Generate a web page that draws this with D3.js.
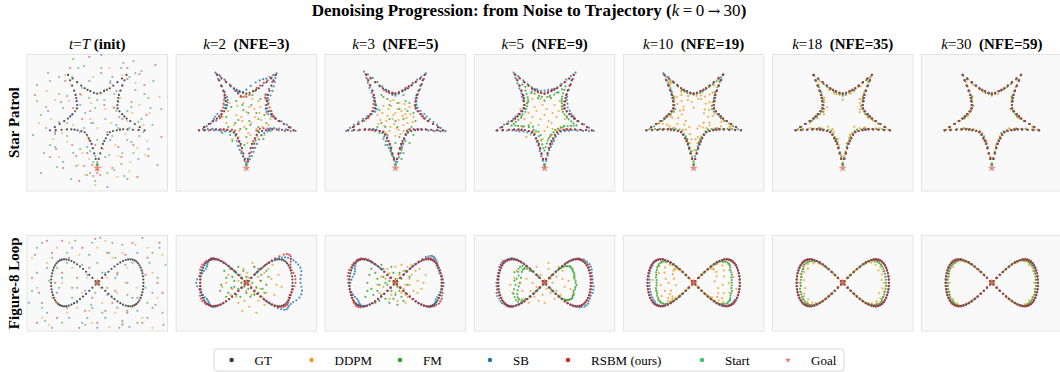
<!DOCTYPE html>
<html>
<head>
<meta charset="utf-8">
<script src="https://cdn.jsdelivr.net/npm/d3@7"></script>
<style>
  body { margin: 0; background: #fff; }
  svg text { font-family: "Liberation Serif", "Times New Roman", serif; white-space: pre; }
</style>
</head>
<body>
<svg id="chart" width="1060" height="372"></svg>
<script>
// ---------- labels ----------
const methods = ['GT', 'DDPM', 'FM', 'SB', 'RSBM (ours)', 'Start', 'Goal'];
const steps = [null, 2, 3, 5, 10, 18, 30];
const nfe = [null, 3, 5, 9, 19, 35, 59];
const rowNames = ['Star Patrol', 'Figure-8 Loop'];

// ---------- ground truth shapes (polar: screen angle in degrees, radius) ----------
const starAngle = [
  90, 92, 94.5, 97.5, 101, 105, 110, 117.5, 126, 134.5, 142, 147, 151, 154.5, 157.5, 160,
  162, 164, 166.5, 169.5, 173, 177, 182, 189.5, 198, 206.5, 214, 219, 223, 226.5, 229.5, 232,
  234, 236, 238.5, 241.5, 245, 249, 254, 261.5, 270, 278.5, 286, 291, 295, 298.5, 301.5, 304,
  306, 308, 310.5, 313.5, 317, 321, 326, 333.5, 342, 350.5, 358, 363, 367, 370.5, 373.5, 376,
  378, 380, 382.5, 385.5, 389, 393, 398, 405.5, 414, 422.5, 430, 435, 439, 442.5, 445.5, 448
];
const starRadius = [
  49.5, 44, 38.5, 33.5, 29.5, 27, 24.8, 22.4, 21.3, 22.4, 24.8, 27, 29.5, 33.5, 38.5, 44,
  49.5, 44, 38.5, 33.5, 29.5, 27, 24.8, 22.4, 21.3, 22.4, 24.8, 27, 29.5, 33.5, 38.5, 44,
  49.5, 44, 38.5, 33.5, 29.5, 27, 24.8, 22.4, 21.3, 22.4, 24.8, 27, 29.5, 33.5, 38.5, 44,
  49.5, 44, 38.5, 33.5, 29.5, 27, 24.8, 22.4, 21.3, 22.4, 24.8, 27, 29.5, 33.5, 38.5, 44,
  49.5, 44, 38.5, 33.5, 29.5, 27, 24.8, 22.4, 21.3, 22.4, 24.8, 27, 29.5, 33.5, 38.5, 44
];
const starGoal = [0, 53];
const starStart = [0, 49.5];

const figAngle = [
  -45.6, -45.5, -45.2, -44.8, -44.2, -43.4, -42.6, -41.5, -40.3, -38.8, -37.2, -35.4, -33.3, -31.0, -28.4,
  -25.6, -22.6, -19.3, -15.7, -12.0, -8.1, -4.1, 0, 4.1, 8.1, 12.0, 15.7, 19.3, 22.6, 25.6,
  28.4, 31.0, 33.3, 35.4, 37.2, 38.8, 40.3, 41.5, 42.6, 43.4, 44.2, 44.8, 45.2, 45.5, 45.6,
  225.6, 225.5, 225.2, 224.8, 224.2, 223.4, 222.6, 221.5, 220.3, 218.8, 217.2, 215.4, 213.3, 211.0, 208.4,
  205.6, 202.6, 199.3, 195.7, 192.0, 188.1, 184.1, 180, 175.9, 171.9, 168.0, 164.3, 160.7, 157.4, 154.4,
  151.6, 149.0, 146.7, 144.6, 142.8, 141.2, 139.7, 138.5, 137.4, 136.6, 135.8, 135.2, 134.8, 134.5, 134.4
];
const figRadius = [
  2.3, 6.9, 11.3, 15.7, 19.8, 23.7, 27.4, 30.7, 33.7, 36.4, 38.7, 40.6, 42.2, 43.4, 44.4,
  45.1, 45.5, 45.8, 45.9, 46, 46, 46, 46, 46, 46, 46, 45.9, 45.8, 45.5, 45.1,
  44.4, 43.4, 42.2, 40.6, 38.7, 36.4, 33.7, 30.7, 27.4, 23.7, 19.8, 15.7, 11.3, 6.9, 2.3,
  2.3, 6.9, 11.3, 15.7, 19.8, 23.7, 27.4, 30.7, 33.7, 36.4, 38.7, 40.6, 42.2, 43.4, 44.4,
  45.1, 45.5, 45.8, 45.9, 46, 46, 46, 46, 46, 46, 46, 45.9, 45.8, 45.5, 45.1,
  44.4, 43.4, 42.2, 40.6, 38.7, 36.4, 33.7, 30.7, 27.4, 23.7, 19.8, 15.7, 11.3, 6.9, 2.3
];
const figGoal = [0, 0];
const figStart = [0, 0];

// ---------- Star Patrol: radial offsets from GT (one value per GT point) ----------
const starK2Rsbm = [0,2,3,3,2,1,0,-1,-2,-2,-1,0,1,2,2,1, 0,-1,-2,-3,-3,-2,0,2,3,3,2,1,0,-1,-1,0,
  1,2,1,-1,-3,-4,-5,-4,-3,-2,0,2,3,3,2,1, 0,-2,-4,-5,-4,-2,0,2,3,2,1,0,-1,-1,0,1, 2,3,3,2,0,-2,-3,-3,-2,0,2,3,4,4,3,2];
const starK2Sb = [-2,0,3,5,6,5,3,1,0,1,2,3,2,0,-2,-3, -4,-3,-1,1,3,4,4,3,1,-1,-2,-3,-3,-2,0,2,
  3,4,3,1,-1,-2,-1,1,4,7,9,10,10,8,6,4, 2,3,5,6,6,4,2,0,-1,-2,-3,-2,0,2,3,2, 0,-2,-3,-3,-2,0,2,3,4,5,6,7,8,8,6,3];
const starK3Rsbm = [0,1,2,2,1,0,-1,-1,-1,0,1,1,1,0,0,0, 0,-1,-1,-2,-2,-1,0,1,2,2,1,0,0,0,1,1,
  1,1,0,-1,-2,-2,-2,-1,0,1,1,2,2,1,1,0, 0,1,2,2,1,0,-1,-1,0,1,1,0,-1,-1,0,1, 1,2,2,1,0,-1,-2,-2,-1,0,1,2,2,1,1,0];
const starK3Sb = [-3,-1,1,3,4,4,3,2,1,0,-1,-1,0,1,2,2, 2,3,4,4,3,1,-1,-2,-2,-1,0,2,3,4,4,3,
  4,5,5,4,2,0,-1,-2,-2,-1,0,1,2,3,3,2, 2,2,1,0,-1,-1,0,1,2,3,4,4,5,5,4,3, 3,4,4,3,1,0,-1,-2,-2,-1,1,3,4,5,4,3];
const starK5Rsbm = [0,0,1,1,1,0,0,-1,-1,0,0,1,1,1,0,0, 0,0,-1,-1,0,0,1,1,1,0,0,-1,-1,0,0,1,
  1,1,0,0,-1,-1,-1,0,0,1,1,1,0,0,0,0, 0,1,1,1,0,0,-1,-1,-1,0,0,1,1,0,0,0, 0,0,1,1,0,-1,-1,-1,0,0,1,1,1,0,0,0];
const starK5Sb = [2,2,3,3,2,1,0,0,1,2,2,3,3,2,2,1, 1,2,3,3,2,2,1,1,0,0,1,2,2,3,3,3,
  3,3,2,2,1,1,2,2,3,3,2,1,1,2,3,3, 3,2,2,1,1,2,2,3,3,3,2,2,1,1,2,2, 2,3,3,3,2,2,1,1,2,2,3,3,3,2,2,2];
const starK5Fm = [-14,-11,-9,-8,-9,-5,-7,-4,-3,-6,-5,-8,-6,-8,-10,-13, -15,-12,-9,-7,-6,-4,-3,-3,-2,-3,-4,-6,-7,-9,-11,-13,
  -12,-10,-13,-7,-6,-9,-5,-4,-7,-4,-5,-9,-7,-8,-12,-13, -14,-12,-10,-8,-6,-5,-4,-3,-3,-4,-5,-5,-7,-9,-11,-14,
  -16,-13,-10,-8,-7,-5,-4,-3,-3,-3,-4,-5,-6,-8,-10,-12];
const starK10Sb = [0,0,0,1,1,0,0,0,0,0,0,0,0,1,1,0, 0,0,0,0,0,0,0,0,0,0,0,0,1,1,1,1,
  2,2,1,1,0,0,0,0,0,0,0,0,0,0,0,1, 1,1,0,0,0,0,0,0,0,0,0,0,0,0,0,0, 0,0,0,0,0,0,0,0,0,0,0,1,1,1,0,0];
const starK10Fm = [-3,-2,-2,-1,-1,-2,-2,-1,-1,-2,-2,-2,-1,-1,-2,-3, -3,-3,-2,-2,-1,-1,-2,-2,-2,-1,-1,-2,-2,-2,-3,-3,
  -2,-2,-1,-1,-2,-2,-2,-1,-1,-1,-2,-2,-1,-1,-2,-3, -3,-2,-2,-2,-1,-1,-1,-2,-2,-2,-1,-1,-2,-2,-2,-3,
  -3,-3,-2,-1,-1,-2,-2,-2,-1,-1,-1,-2,-2,-2,-3,-3];
const starK10Ddpm = [-3,-8,-14,-5,-10,-2,-12,-6,-3,-9,-15,-4,-11,-7,-2,-16, -5,-12,-3,-18,-8,-4,-13,-2,-7,-11,-5,-14,-3,-9,-20,-6,
  -10,-4,-15,-7,-2,-11,-5,-9,-14,-3,-8,-6,-12,-2,-17,-8, -6,-18,-9,-3,-13,-7,-2,-10,-5,-12,-4,-8,-15,-3,-10,-5,
  -12,-5,-9,-16,-3,-8,-12,-4,-6,-10,-2,-13,-7,-5,-14,-9];
const starK18Fm = [-1,-2,-1,-1,-2,-2,-1,-1,-2,-1,-1,-2,-2,-1,-1,-2, -2,-1,-1,-2,-1,-1,-2,-2,-1,-1,-2,-1,-1,-2,-2,-1,
  -1,-1,-2,-2,-1,-2,-1,-1,-2,-2,-1,-1,-2,-1,-1,-2, -2,-2,-1,-1,-2,-1,-1,-2,-1,-1,-2,-2,-1,-1,-2,-1,
  -1,-2,-2,-1,-1,-2,-1,-2,-1,-1,-2,-1,-1,-2,-1,-1];
const starK18Ddpm = [-2,-4,-1,-3,-5,-2,-1,-3,-4,-2,-6,-1,-3,-2,-4,-1, -3,-1,-5,-2,-4,-1,-6,-3,-2,-5,-1,-3,-4,-2,-1,-5,
  -1,-3,-2,-5,-1,-4,-3,-2,-6,-1,-2,-4,-3,-1,-5,-2, -4,-2,-1,-3,-6,-2,-4,-1,-3,-5,-2,-1,-4,-3,-2,-1,
  -2,-5,-3,-1,-4,-2,-3,-6,-1,-2,-4,-3,-1,-5,-2,-3];
const starK30Fm = [-1,-1,0,-1,-1,-1,-2,-1,-1,0,-1,-1,-1,-2,-1,-1, -1,0,-1,-1,-2,-1,-1,-1,0,-1,-1,-1,-2,-1,-1,0,
  -1,-1,-1,0,-1,-1,-2,-1,-1,-1,0,-1,-1,-1,-2,-1, 0,-1,-1,-1,-2,-1,-1,0,-1,-1,-1,-2,-1,-1,0,-1,
  -1,-1,-2,-1,-1,0,-1,-1,-1,-2,-1,-1,0,-1,-1,-1];
const starK30Ddpm = [-1,-2,0,-1,-3,-1,0,-2,-1,-1,-2,0,-1,-3,-1,0, -2,-1,-1,0,-2,-3,-1,-1,0,-2,-1,-1,-3,0,-1,-2,
  0,-1,-3,-1,-1,-2,0,-1,-2,-1,-3,-1,0,-2,-1,-1, -1,0,-2,-1,-3,-1,-1,0,-2,-1,-1,-2,-3,-1,0,-2,
  -2,-1,0,-1,-2,-1,-3,-1,0,-1,-2,-1,-1,-3,-2,0];

// ---------- Star Patrol: scattered samples [x, y] (px units, origin at star centre, y down) ----------
const starInitDdpm = [[-35,18],[10,-26],[30,6],[-15,38],[4,52],[42,-10],[-46,4],[18,30],[-6,-12],[25,-40],[-26,-30],[50,26],[-10,22],[14,8],[-38,42],[33,47],[-4,-38],[6,34],[-22,-4],[46,10],[-50,-24],[23,-17],[-12,60],[38,-32],[-30,27],[0,13],[12,-47],[-42,-15],[28,19],[-19,50],[52,-2],[-7,4],[21,41],[-32,-40],[8,-6],[40,33],[-24,10],[4,-21],[-44,24],[32,56],[-2,70],[62,-18],[-58,8],[16,-8],[-16,-20],[35,-2],[-8,44],[20,62],[-28,-14],[48,40]];
const starInitFm = [[-8,-17],[21,13],[-30,8],[13,-34],[0,25],[34,-8],[-17,34],[25,38],[-38,-21],[8,4],[-4,47],[46,17],[-25,-38],[17,-21],[-13,13],[38,-25],[-51,13],[4,-47],[30,25],[-21,51],[-42,32],[19,-4],[-7,36],[51,-17],[-34,-7],[10,58],[-15,-27],[41,7],[-2,-7],[24,49],[-47,-34],[32,-38],[-10,60],[55,10],[-30,21],[15,21],[-56,0],[7,-15],[-19,-47],[36,38],[64,-6],[-2,66],[26,-52],[-60,-14],[12,40],[-40,52],[44,-44],[-6,8],[30,64],[-24,-56]];
const starInitSb = [[-38,-38],[25,-30],[-17,17],[42,21],[-47,30],[8,42],[30,-4],[-8,-34],[51,34],[-25,0],[17,55],[-51,-8],[38,-42],[-4,8],[21,-13],[-34,47],[47,-21],[-13,-49],[32,13],[-42,19],[7,-25],[-24,38],[53,-7],[-30,-19],[13,25],[-7,58],[41,44],[-53,38],[24,-47],[0,-15],[-17,-10],[34,27],[-38,7],[15,-38],[44,4],[-10,32],[27,61],[-49,-42],[19,10],[-2,41],[60,50],[-64,20],[4,-60],[36,-54],[-26,64],[10,72],[-60,-30],[56,-34],[-12,-2],[22,2]];
const starInitRsbm = [[-32,-34],[30,-36],[-42,17],[41,15],[0,47],[-17,-21],[19,-24],[-25,30],[21,32],[-7,-4],[10,17],[-49,-4],[49,0],[-13,51],[15,53],[-36,-13],[34,-13],[-21,41],[24,42],[4,-42],[-8,25],[36,30],[-41,34],[-4,61],[47,-30],[-27,-47],[25,4],[-15,4],[7,-10],[-47,42],[51,41],[-24,-7],[13,-32],[30,-47],[-10,38],[0,58],[42,-41],[-34,53],[17,-7],[-2,30],[0,55],[3,60],[-5,50],[-62,-20],[64,22],[-18,66],[58,-50],[-56,58],[40,62],[-8,-58]];
const starK2Ddpm = [[-5,2],[8,-6],[-12,10],[15,5],[2,18],[-18,-4],[10,14],[-3,-12],[20,-2],[-8,22],[5,8],[-15,16],[12,-14],[0,-3],[-20,8],[18,20],[-6,-18],[7,26],[-10,0],[22,10],[3,-8],[-14,24],[14,-8],[-2,12],[9,2],[-22,14],[16,12],[-4,6],[6,-16],[-9,-9],[11,22],[-17,-12],[1,28],[19,-10],[-7,16],[13,-2],[-1,-20],[-24,2],[24,4],[4,20]];
const starK2Fm = [[5,-10],[-8,5],[12,12],[-15,-8],[18,0],[0,22],[-5,-18],[10,-2],[-12,18],[22,-12],[3,6],[-20,2],[15,20],[-3,-5],[8,28],[-10,-14],[20,8],[-18,12],[6,-20],[-6,14],[14,-16],[2,-2],[-14,26],[25,-4],[-2,30],[10,16],[-22,-10],[17,24],[-8,-22],[4,10],[-16,20],[12,4],[24,16],[-4,-10],[0,14],[9,-24],[-11,8],[19,-20],[7,33],[-24,18]];
const starK3Ddpm = [[-2,0],[6,-4],[-9,6],[11,3],[1,13],[-13,-2],[8,10],[-4,-9],[15,-1],[-6,16],[3,5],[-11,11],[9,-11],[0,-2],[-15,5],[13,14],[-5,-14],[5,19],[-8,1],[17,7],[2,-6],[-10,18],[10,-6],[-1,9],[7,1],[-17,9],[12,8],[-3,4],[4,-12],[-7,-6],[8,16],[-12,-9],[0,21],[14,-8],[-5,12],[10,-1],[-2,-15],[-18,0],[18,2],[3,15]];
const starK3Fm = [[-12,-18],[8,-20],[-16,-5],[14,-12],[-6,-10],[18,-2],[-14,8],[4,-6],[-8,20],[12,18],[-18,12],[0,28],[6,35],[-4,38],[10,26],[-10,30],[16,12],[-2,-22],[20,-8],[-20,-12],[2,12],[-6,4],[8,4],[-12,24],[14,28],[-2,42],[4,22],[-16,18],[18,20],[10,-14],[-8,-16],[0,6],[6,44],[-10,12],[12,-4],[-4,32],[20,6],[-14,-20],[2,-12],[8,38]];
const starK5Ddpm = [[-8,-4],[4,6],[-14,8],[10,-10],[0,16],[-18,-12],[12,2],[-4,-16],[6,20],[-20,4],[16,12],[-10,18],[2,-6],[-6,10],[14,-4],[-16,-2],[8,14],[-2,24],[-12,-16],[18,-8],[-22,12],[0,0],[10,22],[-8,26],[5,-18],[-14,20],[20,4],[-4,4],[7,8],[-24,-6],[12,16],[-10,-8],[3,12],[-18,22],[15,-14],[-2,-10],[8,-2],[-12,2],[22,14],[-6,-22]];

// ---------- Figure-8 Loop: radial offsets from GT (right lobe 45, left lobe 45) ----------
const figK2Rsbm = [0,0,1,1,1,2,2,3,4,6,8,9,9,8,6,4,2,1,1,2,3,3,3,2,1,0,-1,-1,0,1,2,2,2,1,1,0,0,-1,-1,0,0,0,0,0,0,
  0,0,0,1,1,1,2,2,2,2,1,1,0,0,1,1,2,2,2,1,1,0,0,0,1,1,2,2,2,1,1,0,0,-1,-1,-1,0,0,0,0,0,0,0,0,0];
const figK2Sb = [0,0,0,-1,-1,-2,-2,-1,0,1,2,3,4,5,6,7,8,9,10,10,9,8,8,9,10,10,9,7,5,4,4,5,6,6,5,4,3,2,1,1,0,0,0,0,0,
  0,0,-1,-1,-2,-2,-2,-1,0,1,2,2,1,0,-1,-2,-3,-3,-2,-1,1,3,4,3,1,0,-1,-2,-3,-3,-2,-1,0,1,1,1,0,0,0,0,0,0,0,0,0];
const figK3Rsbm = [0,0,0,0,1,1,1,1,2,2,2,2,1,1,0,0,-1,-1,0,0,1,1,1,1,1,2,2,3,3,3,2,2,1,1,0,0,0,0,0,0,0,0,0,0,0,
  0,0,0,0,1,1,1,2,2,2,1,1,0,0,0,1,1,1,2,2,2,1,1,0,0,-1,-1,0,0,1,1,2,2,2,1,1,0,0,0,0,0,0,0,0,0];
const figK3Sb = [0,0,1,1,2,3,4,5,6,6,6,5,4,3,2,1,0,-1,-1,-1,0,1,2,2,1,0,-1,-2,-2,-1,0,1,1,1,1,0,0,0,0,0,0,0,0,0,0,
  0,0,0,0,-1,-1,-1,-2,-2,-1,0,1,1,1,0,-1,-2,-3,-4,-4,-3,-2,-1,0,0,-1,-2,-3,-4,-4,-3,-2,-1,-1,0,0,0,0,0,0,0,0,0,0,0];
const figK5Rsbm = [0,0,0,0,0,1,1,1,1,1,1,1,0,0,0,0,1,1,1,1,1,1,1,1,1,1,1,1,0,0,0,0,0,0,0,0,0,0,0,0,0,0,0,0,0,
  0,0,0,0,1,1,1,1,1,1,0,0,0,0,1,1,1,1,1,1,1,1,1,1,1,1,1,0,0,0,0,0,1,1,1,0,0,0,0,0,0,0,0,0,0];
const figK5Sb = [0,0,0,1,1,1,2,2,2,1,1,1,1,2,2,2,3,3,3,2,2,2,2,3,3,3,2,2,2,3,3,3,2,2,1,1,1,0,0,0,0,0,0,0,0,
  0,0,0,1,1,1,1,2,2,2,2,1,1,1,2,2,2,2,1,1,1,1,2,2,2,3,3,2,2,2,1,1,1,0,0,-1,-1,-1,0,0,0,0,0,0,0];
const figK5Fm = [-1,-1,-2,-3,-4,-5,-6,-8,-9,-10,-11,-12,-12,-13,-14,-14,-15,-15,-15,-16,-16,-15,-15,-14,-15,-15,-16,-15,-14,-14,-13,-12,-12,-11,-10,-9,-8,-7,-6,-5,-4,-3,-2,-1,-1,
  -2,-4,-3,-6,-8,-5,-10,-12,-9,-14,-11,-16,-13,-18,-15,-20,-17,-14,-19,-22,-18,-16,-21,-17,-20,-15,-18,-13,-16,-12,-14,-10,-12,-8,-11,-7,-9,-5,-7,-4,-5,-3,-2,-1,-1];
const figK10Sb = [0,0,0,0,0,0,0,0,0,0,0,0,0,0,0,0,0,0,0,0,0,0,0,0,0,0,0,0,-1,-1,-1,-1,-1,-1,-1,-1,0,0,0,0,0,0,0,0,0,
  0,0,0,0,0,0,0,0,0,0,0,0,0,0,0,0,-1,-1,-1,-1,-1,-2,-2,-2,-2,-2,-2,-2,-2,-2,-1,-1,-1,-1,0,0,0,0,0,0,0,0,0,0,0];
const figK10Fm = [0,0,0,-1,-1,-1,-2,-2,-2,-3,-3,-4,-4,-4,-5,-5,-6,-7,-7,-7,-8,-8,-8,-8,-8,-7,-7,-7,-6,-5,-5,-4,-4,-4,-3,-3,-2,-2,-2,-1,-1,-1,0,0,0,
  0,0,-1,-1,-1,-2,-2,-3,-3,-3,-4,-4,-4,-5,-5,-6,-6,-7,-7,-8,-8,-9,-9,-9,-8,-8,-8,-7,-7,-6,-6,-5,-5,-4,-4,-3,-3,-2,-2,-2,-1,-1,0,0,0];
const figK10Ddpm = [0,-1,-3,-2,-6,-4,-9,-3,-12,-7,-15,-5,-18,-10,-4,-20,-13,-8,-22,-15,-6,-25,-11,-17,-3,-21,-9,-14,-19,-5,-12,-16,-7,-10,-4,-13,-6,-9,-3,-7,-2,-4,-1,-2,0,
  0,-2,-1,-4,-3,-8,-5,-11,-6,-14,-9,-17,-4,-20,-12,-7,-23,-15,-10,-26,-18,-5,-21,-13,-28,-8,-16,-22,-11,-19,-6,-14,-17,-9,-12,-7,-10,-4,-8,-5,-3,-4,-2,-1,0];
const figK18Fm = [0,0,-1,-1,-1,-1,-2,-2,-2,-2,-2,-2,-2,-3,-3,-3,-3,-3,-3,-3,-3,-3,-3,-3,-3,-3,-3,-3,-3,-2,-2,-2,-2,-2,-2,-2,-1,-1,-1,-1,-1,-1,0,0,0,
  0,0,-1,-1,-1,-2,-2,-2,-2,-2,-3,-3,-3,-3,-3,-3,-3,-4,-4,-4,-4,-4,-4,-4,-3,-3,-3,-3,-3,-3,-2,-2,-2,-2,-2,-2,-1,-1,-1,-1,-1,-1,0,0,0];
const figK18Ddpm = [0,-1,-2,-1,-3,-2,-4,-1,-5,-3,-2,-6,-4,-2,-7,-3,-5,-8,-4,-6,-3,-7,-5,-2,-6,-4,-8,-3,-5,-2,-6,-4,-3,-5,-2,-4,-1,-3,-2,-1,-2,-1,-1,0,0,
  0,-1,-1,-2,-4,-1,-3,-5,-2,-6,-4,-1,-7,-3,-5,-2,-8,-4,-6,-3,-5,-7,-2,-4,-8,-3,-6,-5,-2,-7,-4,-3,-6,-2,-5,-1,-4,-2,-3,-1,-2,-1,0,-1,0];
const figK30Fm = [0,0,0,-1,-1,-1,-1,-1,-1,-2,-2,-2,-2,-2,-2,-2,-2,-2,-2,-2,-2,-2,-2,-2,-2,-2,-2,-2,-2,-2,-2,-2,-1,-1,-1,-1,-1,-1,-1,-1,0,0,0,0,0,
  0,0,-1,-1,-1,-1,-1,-2,-2,-2,-2,-2,-2,-2,-2,-2,-2,-2,-2,-2,-2,-2,-2,-2,-2,-2,-2,-2,-2,-2,-2,-1,-1,-1,-1,-1,-1,-1,-1,-1,0,0,0,0,0];
const figK30Ddpm = [0,-1,0,-1,-2,-1,-3,-1,-2,-4,-1,-2,-3,-1,-2,-4,-2,-1,-3,-2,-1,-2,-4,-1,-3,-2,-1,-3,-2,-4,-1,-2,-3,-1,-2,-1,-3,-1,-2,-1,-1,0,-1,0,0,
  0,0,-1,-1,-2,-3,-1,-2,-1,-3,-4,-1,-2,-2,-3,-1,-4,-2,-1,-2,-3,-1,-4,-2,-1,-3,-2,-1,-4,-2,-1,-3,-2,-1,-2,-3,-1,-2,-1,-1,0,-1,0,0,0];

// ---------- Figure-8 Loop: scattered samples [x, y] (origin at the crossing, y down) ----------
const figInitDdpm = [[-50,-20],[10,-5],[35,25],[-30,30],[55,-10],[0,-35],[-15,10],[25,-30],[-60,5],[45,35],[5,20],[-40,-35],[20,10],[-25,-15],[60,15],[-5,40],[30,-15],[-45,15],[15,-25],[-10,-5],[50,-35],[-55,35],[40,5],[-20,25],[8,-42],[-35,0],[25,40],[-65,-25],[65,-28],[-8,28],[18,30],[-28,-40],[38,-38],[-48,42],[3,5],[55,45],[-18,-28],[28,0],[-40,20],[12,44]];
const figInitFm = [[-20,5],[15,15],[-40,-15],[35,-20],[0,-20],[-55,25],[50,20],[-10,35],[25,-38],[-30,-30],[5,30],[60,-5],[-65,8],[20,-8],[-5,-40],[40,40],[-35,40],[10,5],[-15,-18],[55,-30],[-48,-2],[30,28],[-25,15],[-2,10],[45,-12],[-60,-35],[18,-25],[-12,42],[65,30],[-38,5],[8,-10],[30,12],[-52,38],[-22,-42],[48,5],[-6,22],[22,45],[-45,-25],[12,-30],[68,-18]];
const figInitSb = [[-30,-20],[20,25],[-50,30],[40,-30],[5,-10],[-15,40],[55,10],[-60,-10],[30,0],[-5,25],[15,-40],[-40,10],[50,35],[-25,-35],[62,-35],[-10,-8],[25,38],[-55,-40],[35,15],[-20,20],[0,45],[45,-45],[-68,20],[10,12],[-35,-5],[58,22],[-8,-28],[28,-18],[-45,45],[18,-5],[-28,35],[40,28],[-62,-28],[3,-45],[52,-20],[-12,8],[32,44],[-50,-15],[8,35],[66,42]];
const figInitRsbm = [[-45,-30],[30,30],[-25,5],[50,-25],[10,-30],[-55,20],[20,-10],[-5,15],[40,15],[-35,-10],[0,40],[-15,-35],[55,25],[-60,40],[25,42],[-40,35],[60,0],[-8,-15],[15,20],[-30,25],[35,-40],[-50,-42],[45,40],[-20,-5],[5,-5],[-65,-5],[28,-28],[-12,28],[62,-40],[-42,0],[18,8],[-28,-25],[48,-8],[-2,-44],[-58,10],[38,22],[-18,45],[8,28],[65,10],[-35,-42]];
const figK2Ddpm = [[2,-5],[10,4],[-8,-2],[18,-10],[-14,6],[5,12],[25,-4],[-3,-14],[12,18],[-18,-8],[30,2],[0,8],[8,-16],[-10,14],[20,10],[-5,0],[15,-2],[3,24],[-20,0],[28,12],[6,-20],[-12,-12],[22,-14],[-2,18],[10,30],[-16,12],[32,-8],[14,6],[-6,-8],[4,2],[18,22],[-24,4],[8,10],[-8,20],[26,-18],[1,-10],[12,-6],[-4,28],[35,4],[16,14]];
const figK2Fm = [[-5,0],[5,-5],[-15,5],[10,5],[-20,-5],[0,10],[15,-8],[-10,-10],[20,2],[-25,2],[8,12],[-3,-12],[-18,10],[12,-14],[-8,6],[3,-2],[18,10],[-12,-2],[-22,-12],[6,0],[-6,14],[14,-2],[-16,-14],[0,-6],[22,-6],[-2,4],[10,-10],[-26,8],[4,14],[-10,12],[16,6],[-14,-6],[-4,-4],[8,-16],[-20,14],[12,10],[2,6],[-8,-16],[20,-12],[-12,4]];
const figK3Ddpm = [[2,-4],[10,2],[-6,-10],[16,-8],[-12,4],[6,10],[22,-2],[0,-16],[12,14],[-10,-4],[26,6],[4,4],[8,-12],[-4,12],[18,8],[-2,0],[14,-4],[2,18],[-14,-6],[28,0],[6,-18],[-8,-14],[20,-12],[0,10],[10,20],[-16,10],[30,-8],[14,2],[-4,-6],[4,-8],[18,16],[-18,2],[8,6],[-6,16],[24,-14],[12,-16],[-2,-2],[10,12],[22,10],[16,-18]];
const figK3Fm = [[-10,0],[-4,8],[-18,-4],[2,4],[-24,6],[-8,-8],[6,-4],[-14,12],[-2,16],[-20,-10],[10,10],[-28,0],[-6,20],[4,-10],[-16,18],[-12,-14],[8,18],[-22,12],[0,-4],[-26,-8],[12,2],[-8,2],[-30,14],[-4,-16],[-18,8],[6,14],[-12,-6],[2,22],[-24,-14],[14,-6],[-10,16],[-2,-10],[-16,2],[4,8],[-20,20],[10,-12],[-6,-2],[-28,8],[0,12],[-14,-18]];
const figK5Ddpm = [[-30,-5],[-22,8],[-15,-12],[-8,4],[0,-2],[6,10],[12,-6],[20,4],[28,12],[-26,16],[-18,-4],[-10,14],[-4,-8],[4,-14],[10,16],[18,-12],[24,-2],[-34,2],[-12,0],[2,6],[8,0],[16,12],[-20,-14],[-6,18],[14,-16],[22,18],[-28,-12],[-2,12],[30,-6],[-14,8],[6,-4],[-24,0],[12,8],[-8,-16],[26,6],[-32,10],[0,20],[18,-4],[-16,20],[4,-20]];

// ---------- layout & style ----------
const colors = {
  GT: '#3a3a3a', DDPM: '#f59b1e', FM: '#2ca02c', SB: '#1f77b4',
  RSBM: '#d62728', Start: '#2ecc71', Goal: '#e8503a'
};
const panelLeft = 27, panelStep = 149.1, panelWidth = 140.5;
const rowBoxes = [{ top: 54.5, height: 136.5 }, { top: 235.5, height: 95.5 }];
const legendX = [231.6, 311.5, 400, 490, 568, 702, 788];

const svg = d3.select('#chart');
const off = arr => ({ off: arr });

const rows = [
  {
    shape: { angle: starAngle, radius: starRadius },
    xDomain: [-70, 70], yDomain: [-60.5, 76],
    goal: starGoal, start: starStart,
    panels: [
      { DDPM: starInitDdpm, FM: starInitFm, SB: starInitSb, RSBM: starInitRsbm },
      { DDPM: starK2Ddpm, FM: starK2Fm, SB: off(starK2Sb), RSBM: off(starK2Rsbm) },
      { DDPM: starK3Ddpm, FM: starK3Fm, SB: off(starK3Sb), RSBM: off(starK3Rsbm) },
      { DDPM: starK5Ddpm, FM: off(starK5Fm), SB: off(starK5Sb), RSBM: off(starK5Rsbm) },
      { DDPM: off(starK10Ddpm), FM: off(starK10Fm), SB: off(starK10Sb), RSBM: off(null) },
      { DDPM: off(starK18Ddpm), FM: off(starK18Fm), SB: off(null), RSBM: off(null) },
      { DDPM: off(starK30Ddpm), FM: off(starK30Fm), SB: off(null), RSBM: off(null) }
    ]
  },
  {
    shape: { angle: figAngle, radius: figRadius },
    xDomain: [-70, 70], yDomain: [-47.3, 48.2],
    goal: figGoal, start: figStart,
    panels: [
      { DDPM: figInitDdpm, FM: figInitFm, SB: figInitSb, RSBM: figInitRsbm },
      { DDPM: figK2Ddpm, FM: figK2Fm, SB: off(figK2Sb), RSBM: off(figK2Rsbm) },
      { DDPM: figK3Ddpm, FM: figK3Fm, SB: off(figK3Sb), RSBM: off(figK3Rsbm) },
      { DDPM: figK5Ddpm, FM: off(figK5Fm), SB: off(figK5Sb), RSBM: off(figK5Rsbm) },
      { DDPM: off(figK10Ddpm), FM: off(figK10Fm), SB: off(figK10Sb), RSBM: off(null) },
      { DDPM: off(figK18Ddpm), FM: off(figK18Fm), SB: off(null), RSBM: off(null) },
      { DDPM: off(figK30Ddpm), FM: off(figK30Fm), SB: off(null), RSBM: off(null) }
    ]
  }
];

// points along the GT shape, pushed radially by the typed offsets
function curvePoints(shape, offsets) {
  return shape.angle.map((a, i) => {
    const r = Math.max(0, shape.radius[i] + (offsets ? offsets[i] : 0));
    return d3.pointRadial((a + 90) * Math.PI / 180, r);
  });
}

function resolve(shape, spec) {
  return Array.isArray(spec) ? spec : curvePoints(shape, spec.off);
}

// ---------- title ----------
const title = svg.append('text')
  .attr('x', 529).attr('y', 16)
  .attr('text-anchor', 'middle')
  .style('font-size', '17px');
title.append('tspan').attr('font-weight', 'bold').text('Denoising Progression: from Noise to Trajectory (');
title.append('tspan').attr('font-style', 'italic').text('k');
title.append('tspan').text('\u2009=\u20090\u2009');
title.append('tspan').style('font-family', '"DejaVu Serif", serif').style('font-size', '15px').text('\u2192');
title.append('tspan').text('\u200930');
title.append('tspan').attr('font-weight', 'bold').text(')');

// ---------- panels ----------
rows.forEach((row, ri) => {
  const box = rowBoxes[ri];
  const x = d3.scaleLinear().domain(row.xDomain).range([0, panelWidth]);
  const y = d3.scaleLinear().domain(row.yDomain).range([0, box.height]);
  const gtPoints = curvePoints(row.shape, null);

  row.panels.forEach((panel, ci) => {
    const g = svg.append('g')
      .attr('transform', `translate(${panelLeft + ci * panelStep},${box.top})`);

    g.append('rect')
      .attr('width', panelWidth).attr('height', box.height)
      .attr('fill', '#f9f9f9')
      .attr('stroke', '#e3e3e3').attr('stroke-width', 1);

    const dots = (pts, color, opacity) => {
      g.append('g').selectAll('circle')
        .data(pts)
        .join('circle')
        .attr('cx', d => x(d[0]))
        .attr('cy', d => y(d[1]))
        .attr('r', 1.1)
        .attr('fill', color)
        .attr('fill-opacity', opacity);
    };

    dots(gtPoints, colors.GT, 0.9);
    const noiseOpacity = ci === 0 ? 0.55 : 0.8;
    ['DDPM', 'FM', 'SB', 'RSBM'].forEach(m => {
      dots(resolve(row.shape, panel[m]), colors[m], noiseOpacity);
    });

    g.append('circle')
      .attr('cx', x(row.start[0])).attr('cy', y(row.start[1]))
      .attr('r', 1.6).attr('fill', colors.Start).attr('fill-opacity', 0.8);
    g.append('path')
      .attr('d', d3.symbol(d3.symbolStar, 22)())
      .attr('transform', `translate(${x(row.goal[0])},${y(row.goal[1])})`)
      .attr('fill', colors.Goal).attr('fill-opacity', 0.65);

    // column title
    if (ri === 0) {
      const t = g.append('text')
        .attr('x', panelWidth / 2).attr('y', 49 - box.top)
        .attr('text-anchor', 'middle')
        .style('font-size', '15px');
      if (steps[ci] === null) {
        t.append('tspan').attr('font-style', 'italic').text('t');
        t.append('tspan').text('=');
        t.append('tspan').attr('font-style', 'italic').text('T');
        t.append('tspan').attr('font-weight', 'bold').text(' (init)');
      } else {
        t.append('tspan').attr('font-style', 'italic').text('k');
        t.append('tspan').text('=' + steps[ci]);
        t.append('tspan').attr('font-weight', 'bold').text('  (NFE=' + nfe[ci] + ')');
      }
    }
  });

  // row label
  svg.append('text')
    .attr('transform', `translate(18.5,${box.top + box.height / 2}) rotate(-90)`)
    .attr('text-anchor', 'middle')
    .attr('font-weight', 'bold')
    .style('font-size', '15px')
    .text(rowNames[ri]);
});

// ---------- legend ----------
const legend = svg.append('g');
legend.append('rect')
  .attr('x', 214).attr('y', 349).attr('width', 630).attr('height', 22)
  .attr('rx', 3)
  .attr('fill', '#fff').attr('stroke', '#d6d6d6');

const legendColors = [colors.GT, colors.DDPM, colors.FM, colors.SB, colors.RSBM, colors.Start, colors.Goal];
methods.forEach((m, i) => {
  if (m === 'Goal') {
    legend.append('path')
      .attr('d', d3.symbol(d3.symbolStar, 10)())
      .attr('transform', `translate(${legendX[i]},360)`)
      .attr('fill', legendColors[i]).attr('fill-opacity', 0.8);
  } else {
    legend.append('circle')
      .attr('cx', legendX[i]).attr('cy', 360).attr('r', 2.2)
      .attr('fill', legendColors[i]);
  }
  legend.append('text')
    .attr('x', legendX[i] + 23).attr('y', 364.5)
    .style('font-size', '13px')
    .text(m);
});
</script>
</body>
</html>
